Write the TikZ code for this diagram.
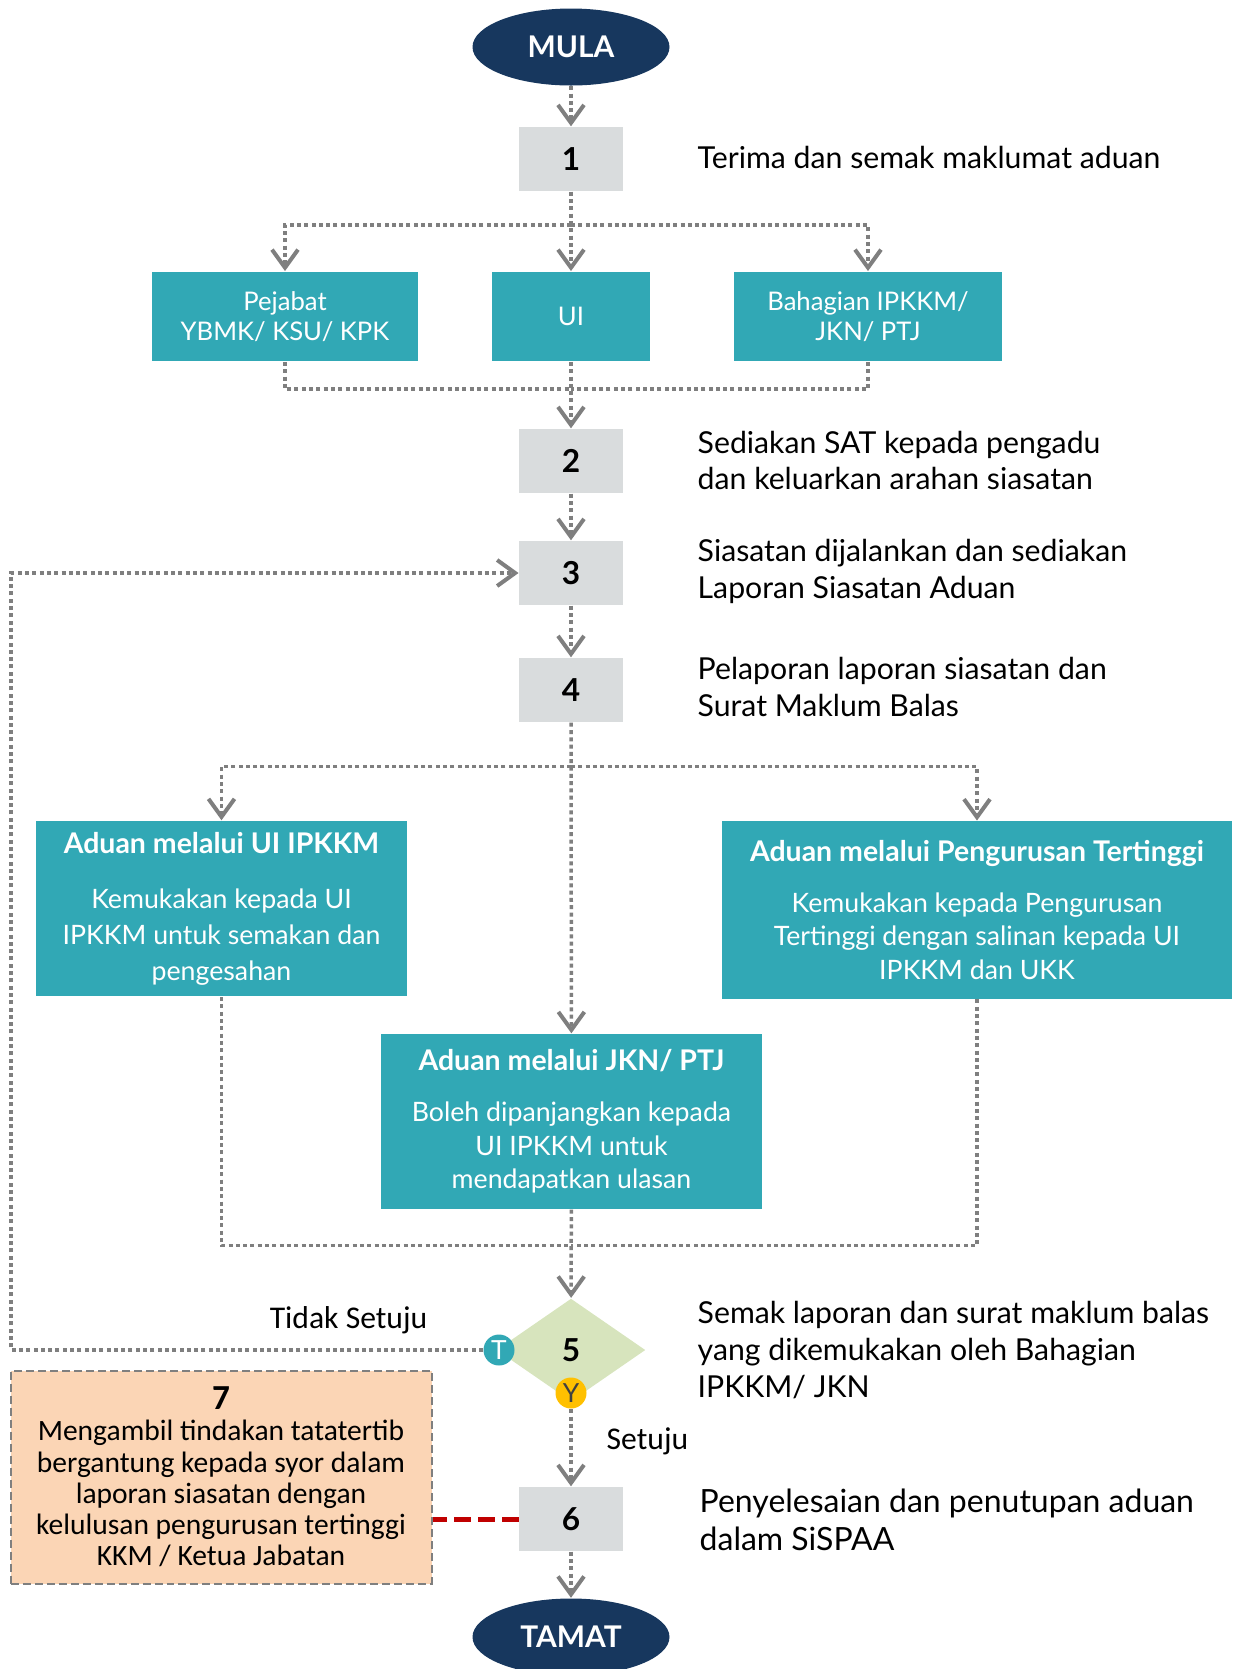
\documentclass[tikz,border=0pt]{standalone}
\usepackage{fontspec}
\setmainfont{Lato}
\newfontfamily\calib{Carlito}
\usetikzlibrary{shapes.geometric,arrows.meta}
\definecolor{navy}{HTML}{17375E}
\definecolor{tealbox}{HTML}{31A8B5}
\definecolor{greybox}{HTML}{D9DCDD}
\definecolor{sage}{HTML}{D7E4BD}
\definecolor{peach}{HTML}{FBD5B5}
\definecolor{amber}{HTML}{FFC000}
\definecolor{linegrey}{HTML}{7F7F7F}
\definecolor{darkred}{HTML}{C00000}
\newcommand{\headfont}{\bfseries\fontsize{8.1}{9.5}\selectfont}
\pgfdeclarelayer{bg}
\pgfsetlayers{bg,main}
\tikzset{
  terminal/.style={ellipse, fill=navy, text=white, inner sep=0pt,
    minimum width=19.7mm, minimum height=7.7mm,
    font=\bfseries\fontsize{8.5}{10}\selectfont},
  numbox/.style={fill=greybox, inner sep=0pt, minimum width=10.35mm,
    minimum height=6.4mm, font=\bfseries\fontsize{9}{10}\selectfont},
  unitbox/.style={fill=tealbox, text=white, inner sep=0pt, align=center,
    minimum height=8.95mm, font=\fontsize{7.3}{8.6}\selectfont},
  routebox/.style={fill=tealbox, text=white, inner sep=0pt, align=center,
    font=\fontsize{7.6}{9.5}\selectfont},
  decision/.style={diamond, fill=sage, inner sep=0pt, minimum width=14.9mm,
    minimum height=10.3mm, font=\bfseries\fontsize{9}{10}\selectfont},
  answer/.style={circle, inner sep=0pt, minimum size=3.1mm,
    font=\fontsize{7.5}{8}\selectfont},
  action/.style={fill=peach, draw=linegrey, line width=0.2mm,
    dash pattern=on 0.8mm off 0.4mm, inner sep=0pt, align=center,
    minimum width=42.1mm, minimum height=21.3mm,
    font=\calib\fontsize{8.4}{8.9}\selectfont},
  desc/.style={anchor=west, align=left, inner sep=0pt,
    font=\fontsize{8.6}{10.5}\selectfont},
  choice/.style={inner sep=0pt, font=\calib\fontsize{9}{10}\selectfont},
  flowline/.style={draw=linegrey, line width=0.35mm,
    dash pattern=on 0.4mm off 0.33mm},
  flow/.style={flowline,
    -{Straight Barb[length=1.8mm, width=2.6mm, line width=0.4mm]}},
  redlink/.style={draw=darkred, line width=0.5mm,
    dash pattern=on 1.7mm off 0.7mm}
}
\begin{document}
\begin{tikzpicture}[x=0.1mm, y=-0.1mm]
        \useasboundingbox (0,0) rectangle (1236,1669);
        \clip (0,0) rectangle (1236,1669);
        % main column
        \node (mula) [terminal] at (571, 47) {MULA};
        \node (s1) [numbox] at (571, 159) {1};
        \node (pej) [unitbox, minimum width=26.6mm] at (285, 316.5)
                {Pejabat\\YBMK/ KSU/ KPK};
        \node (ui) [unitbox, minimum width=15.8mm] at (571, 316.5) {UI};
        \node (bah) [unitbox, minimum width=26.8mm] at (868, 316.5)
                {Bahagian IPKKM/\\JKN/ PTJ};
        \node (s2) [numbox] at (571, 461) {2};
        \node (s3) [numbox] at (571, 573) {3};
        \node (s4) [numbox] at (571, 690) {4};
        \node (adUI) [routebox, minimum width=37.1mm, minimum height=17.55mm,
                font=\fontsize{7.6}{10.2}\selectfont] at (221.5, 908.7)
                {{\headfont Aduan melalui UI IPKKM}\\[5.5pt]Kemukakan kepada UI\\
                 IPKKM untuk semakan dan\\pengesahan};
        \node (adPT) [routebox, minimum width=51mm, minimum height=17.75mm]
                at (977, 910)
                {{\headfont Aduan melalui Pengurusan Tertinggi}\\[5pt]Kemukakan
                 kepada Pengurusan\\Tertinggi dengan salinan kepada UI\\
                 IPKKM dan UKK};
        \node (adJKN) [routebox, minimum width=38.1mm, minimum height=17.5mm]
                at (571.5, 1121.5)
                {{\headfont Aduan melalui JKN/ PTJ}\\[5pt]Boleh dipanjangkan
                 kepada\\UI IPKKM untuk\\mendapatkan ulasan};
        \node (s5) [decision] at (571, 1350) {5};
        \node (tc) [answer, fill=tealbox, text=white] at (499, 1350) {T};
        \node (yc) [answer, fill=amber, text=black!75] at (571, 1393) {Y};
        \node (s6) [numbox] at (571, 1519) {6};
        \node (s7) [action] at (221, 1477)
                {{\bfseries\fontsize{10}{10}\selectfont 7}\\Mengambil tindakan
                 tatatertib\\bergantung kepada syor dalam\\laporan siasatan
                 dengan\\kelulusan pengurusan tertinggi\\KKM / Ketua Jabatan};
        \node (tamat) [terminal] at (571, 1637) {TAMAT};
        % bend points
        \coordinate (b1) at (571, 225);
        \coordinate (m1) at (571, 389);
        \coordinate (b2) at (571, 766.5);
        \coordinate (m2) at (571, 1245.6);
        \coordinate (lb) at (11, 573);
        \coordinate (r7) at (s7.east |- s6);
        % descriptions
        \node (d1) [desc] at (697, 157) {Terima dan semak maklumat aduan};
        \node (d2) [desc] at (697, 460.5)
                {Sediakan SAT kepada pengadu\\dan keluarkan arahan siasatan};
        \node (d3) [desc] at (697, 571)
                {Siasatan dijalankan dan sediakan\\Laporan Siasatan Aduan};
        \node (d4) [desc] at (697, 687)
                {Pelaporan laporan siasatan dan\\Surat Maklum Balas};
        \node (d5) [desc] at (697, 1350)
                {Semak laporan dan surat maklum balas\\yang dikemukakan oleh
                 Bahagian\\IPKKM/ JKN};
        \node (d6) [desc, font=\fontsize{9.1}{10.8}\selectfont] at (699, 1520)
                {Penyelesaian dan penutupan aduan\\dalam SiSPAA};
        \node (no) [choice, anchor=east] at (428, 1320) {Tidak Setuju};
        \node (yes) [choice, anchor=west] at (606, 1441) {Setuju};
        \begin{pgfonlayer}{bg}
                \draw [flow] (mula) -- (s1);
                \draw [flow] (s1) -- (ui);
                \draw [flow] (b1) -| (pej);
                \draw [flow] (b1) -| (bah);
                \draw [flowline] (pej) |- (m1);
                \draw [flowline] (bah) |- (m1);
                \draw [flow] (ui) -- (s2);
                \draw [flow] (s2) -- (s3);
                \draw [flow] (s3) -- (s4);
                \draw [flow] (s4) -- (adJKN);
                \draw [flow] (b2) -| (adUI);
                \draw [flow] (b2) -| (adPT);
                \draw [flowline] (adUI) |- (m2);
                \draw [flowline] (adPT) |- (m2);
                \draw [flow] (adJKN) -- (s5);
                \draw [flow] (tc) -| (lb) -- (s3);
                \draw [flow] (yc) -- (s6);
                \draw [flow] (s6) -- (tamat);
                \draw [redlink] (s6) -- (r7);
        \end{pgfonlayer}
\end{tikzpicture}
\end{document}
